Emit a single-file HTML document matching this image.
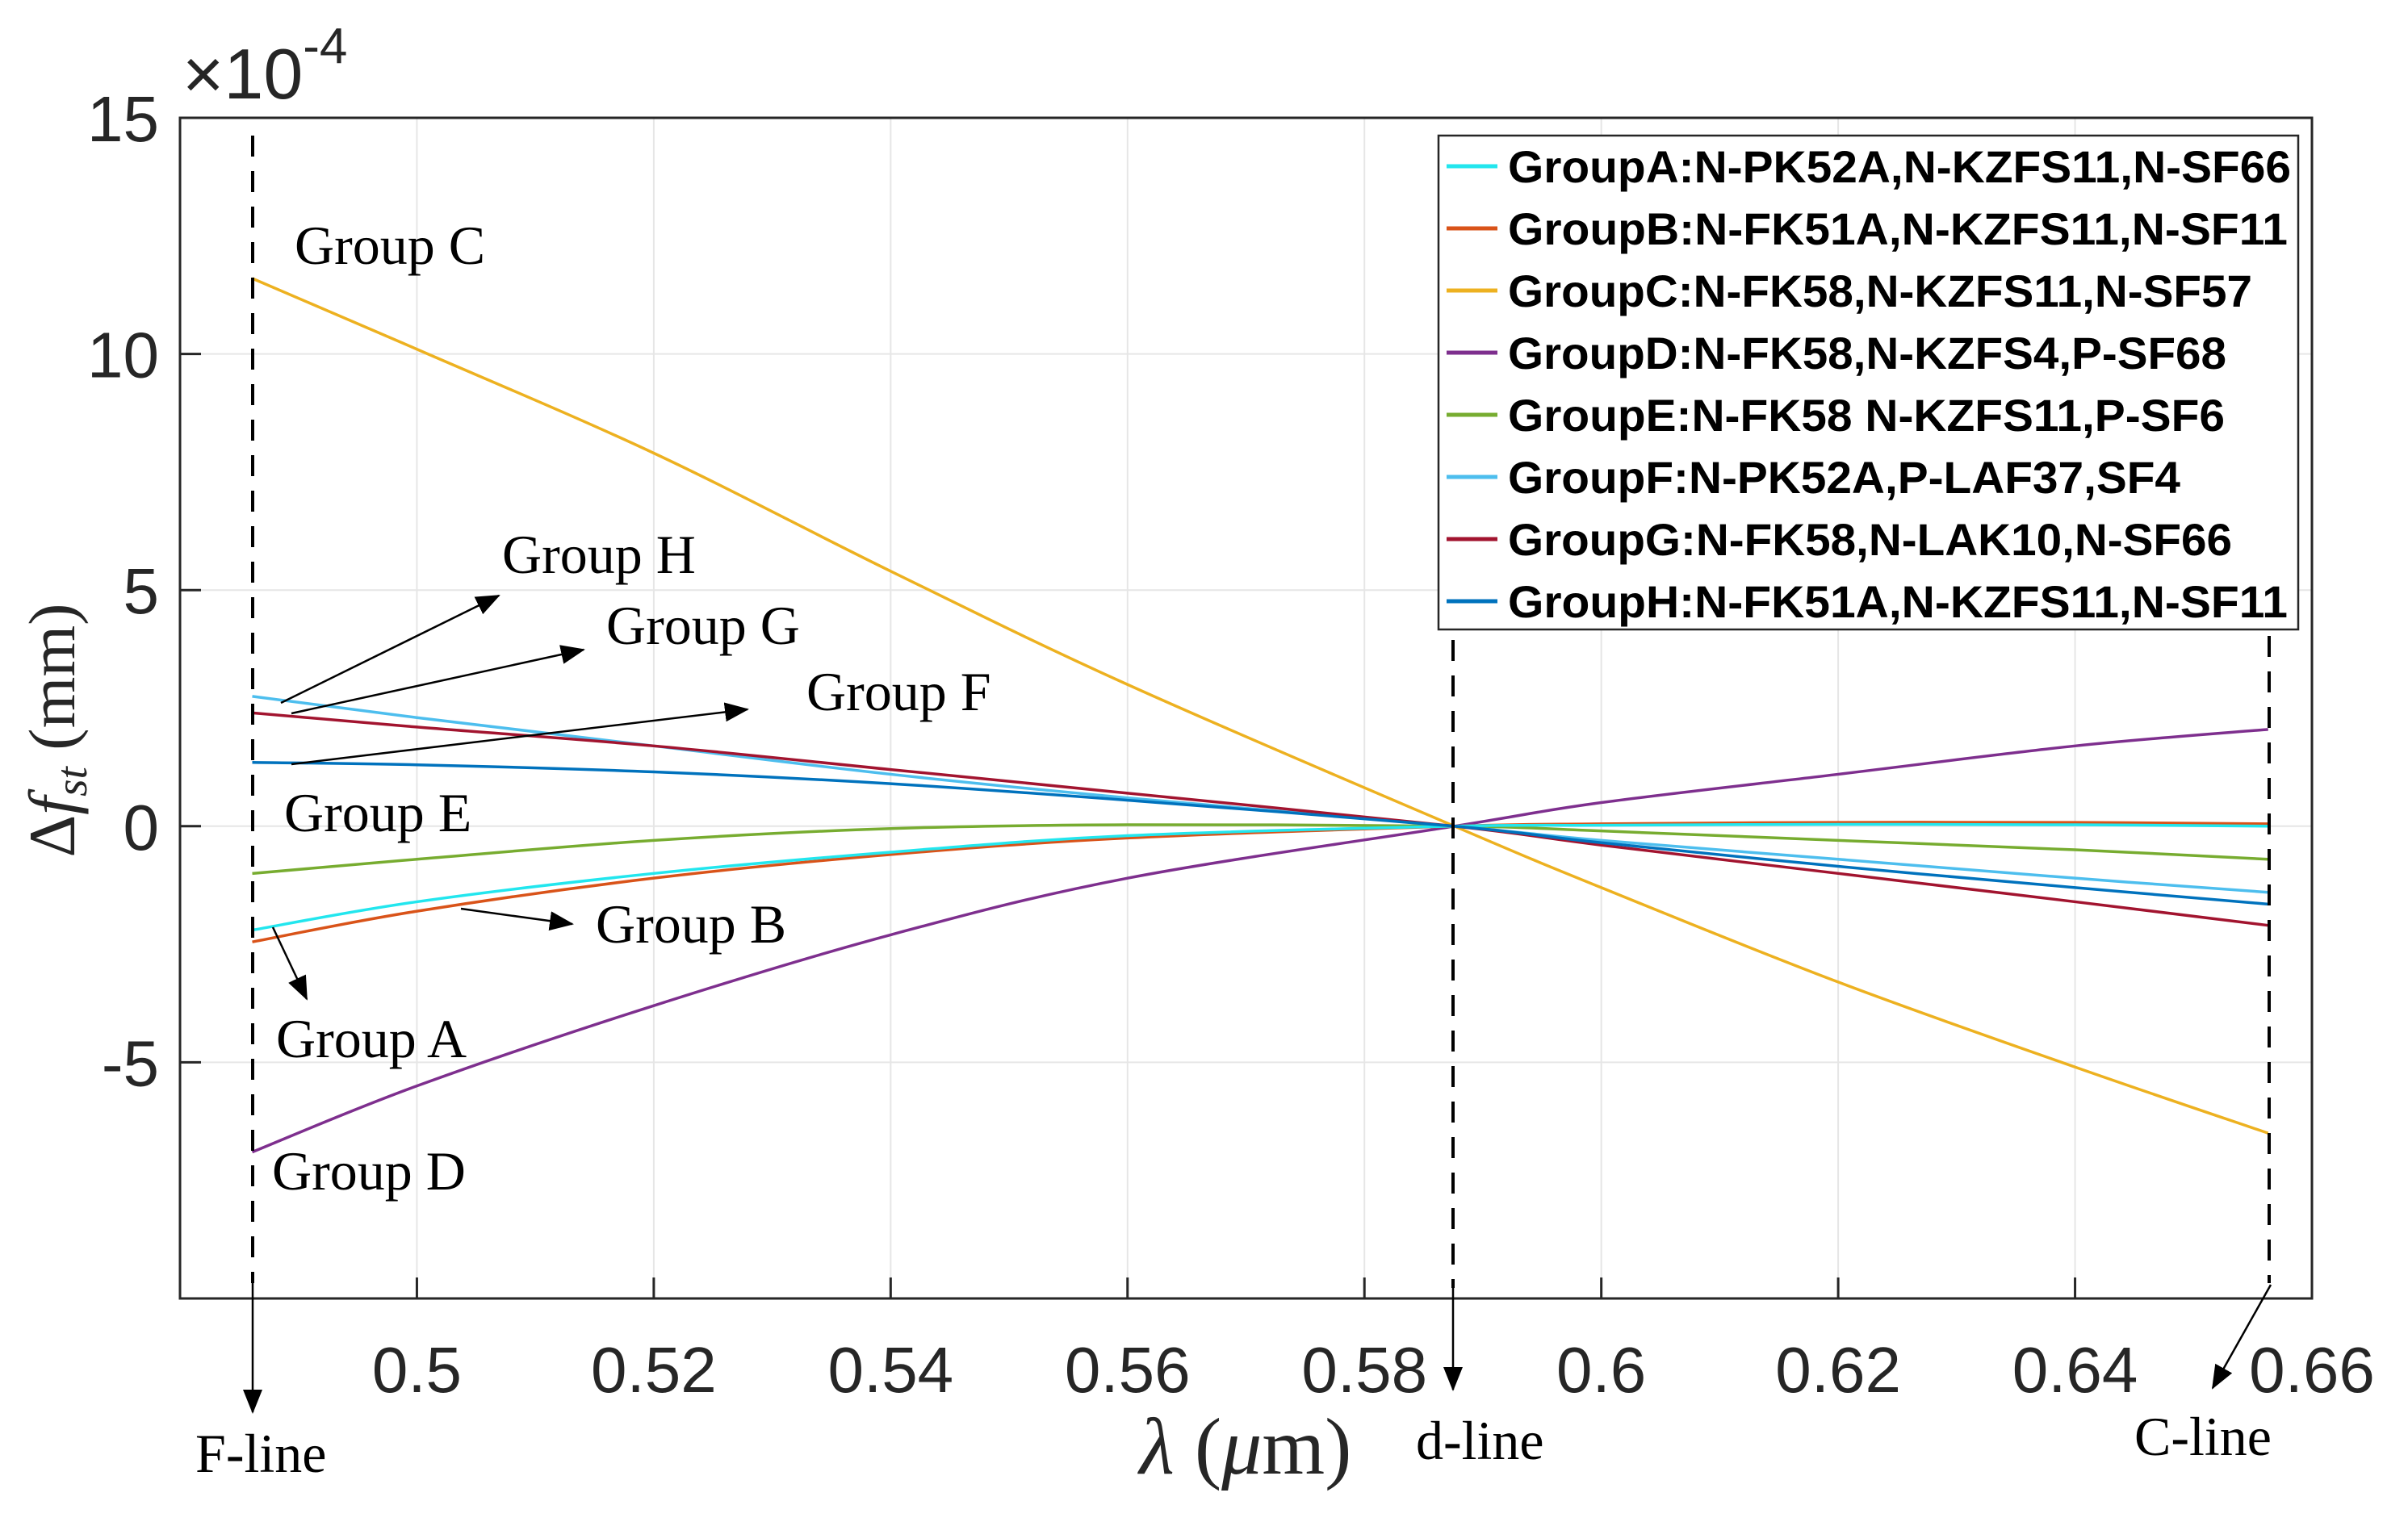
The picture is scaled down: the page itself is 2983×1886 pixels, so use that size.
<!DOCTYPE html>
<html><head><meta charset="utf-8"><style>
html,body{margin:0;padding:0;background:#fff;}
svg{display:block;}
</style></head><body>
<svg id="chart" width="2983" height="1886" xmlns="http://www.w3.org/2000/svg">
<rect x="0" y="0" width="2983" height="1886" fill="#fff"/>
<g id="grid"></g>
<g id="series"></g>
<rect x="223" y="146" width="2641" height="1463" fill="none" stroke="#262626" stroke-width="3"/>
<g id="ticks" font-family="Liberation Sans, sans-serif" font-size="80" fill="#262626"></g>
<text x="226" y="122" font-family="Liberation Sans, sans-serif" font-size="88" fill="#262626">×10<tspan font-size="62" dy="-44">-4</tspan></text>
<text transform="translate(92,905) rotate(-90)" text-anchor="middle" font-family="Liberation Serif, serif" font-size="82" fill="#262626">Δ<tspan font-style="italic">f</tspan><tspan font-style="italic" font-size="55" dy="15">st</tspan><tspan dy="-15"> (mm)</tspan></text>
<text x="1543" y="1826" text-anchor="middle" font-family="Liberation Serif, serif" font-size="100" fill="#262626"><tspan font-style="italic">λ</tspan> (<tspan font-style="italic">μ</tspan>m)</text>
<defs>
<marker id="ah2" markerWidth="30" markerHeight="24" refX="28" refY="12" orient="auto" markerUnits="userSpaceOnUse"><path d="M0,0 L30,12 L0,24 z" fill="#000"/></marker></defs>
<g id="annot" font-family="Liberation Serif, serif" font-size="68" fill="#000" stroke="none">
<line x1="313" y1="168" x2="313" y2="1590" stroke="#000" stroke-width="4" stroke-dasharray="26,18"/>
<line x1="313" y1="1590" x2="313" y2="1750" stroke="#000" stroke-width="2.5" marker-end="url(#ah2)"/>
<line x1="1800" y1="793" x2="1800" y2="1596" stroke="#000" stroke-width="4" stroke-dasharray="26,18"/>
<line x1="1800" y1="1596" x2="1800" y2="1722" stroke="#000" stroke-width="2.5" marker-end="url(#ah2)"/>
<line x1="2811" y1="788" x2="2811" y2="1590" stroke="#000" stroke-width="4" stroke-dasharray="26,18"/>
<line x1="2813" y1="1592" x2="2741" y2="1720" stroke="#000" stroke-width="2.5" marker-end="url(#ah2)"/>
<line x1="348" y1="871" x2="618" y2="738" stroke="#000" stroke-width="2.5" marker-end="url(#ah2)"/>
<line x1="361" y1="884" x2="723" y2="805" stroke="#000" stroke-width="2.5" marker-end="url(#ah2)"/>
<line x1="361" y1="947" x2="926" y2="879" stroke="#000" stroke-width="2.5" marker-end="url(#ah2)"/>
<line x1="571" y1="1126" x2="709" y2="1145" stroke="#000" stroke-width="2.5" marker-end="url(#ah2)"/>
<line x1="338" y1="1149" x2="380" y2="1238" stroke="#000" stroke-width="2.5" marker-end="url(#ah2)"/>
<text x="365" y="327">Group C</text>
<text x="622" y="710">Group H</text>
<text x="751" y="798">Group G</text>
<text x="999" y="880">Group F</text>
<text x="352" y="1030">Group E</text>
<text x="738" y="1168">Group B</text>
<text x="342" y="1310">Group A</text>
<text x="337" y="1474">Group D</text>
<text x="242" y="1824">F-line</text>
<text x="1754" y="1808">d-line</text>
<text x="2644" y="1803">C-line</text>
</g>
<g id="legend">
<rect x="1782" y="168" width="1065" height="612" fill="#fff" stroke="#262626" stroke-width="2.5"/>
</g>
</svg>
<script>
const xs = [0.4861, 0.50, 0.52, 0.54, 0.56, 0.5876, 0.60, 0.62, 0.64, 0.6563];
const seriesNames = ['GroupA:N-PK52A,N-KZFS11,N-SF66','GroupB:N-FK51A,N-KZFS11,N-SF11','GroupC:N-FK58,N-KZFS11,N-SF57','GroupD:N-FK58,N-KZFS4,P-SF68','GroupE:N-FK58 N-KZFS11,P-SF6','GroupF:N-PK52A,P-LAF37,SF4','GroupG:N-FK58,N-LAK10,N-SF66','GroupH:N-FK51A,N-KZFS11,N-SF11'];
const groupA = [-2.2, -1.6, -1.0, -0.55, -0.2, 0, 0.02, 0.04, 0.03, 0.0];
const groupB = [-2.45, -1.8, -1.1, -0.6, -0.25, 0, 0.05, 0.08, 0.08, 0.05];
const groupC = [11.6, 10.1, 7.9, 5.4, 3.0, 0, -1.3, -3.3, -5.1, -6.5];
const groupD = [-6.9, -5.5, -3.8, -2.3, -1.1, 0, 0.5, 1.1, 1.7, 2.05];
const groupE = [-1.0, -0.7, -0.3, -0.05, 0.03, 0, -0.1, -0.3, -0.5, -0.7];
const groupF = [2.75, 2.3, 1.7, 1.1, 0.6, 0, -0.3, -0.7, -1.1, -1.4];
const groupG = [2.4, 2.1, 1.7, 1.2, 0.7, 0, -0.4, -1.0, -1.6, -2.1];
const groupH = [1.35, 1.3, 1.15, 0.9, 0.55, 0, -0.35, -0.85, -1.3, -1.65];
const xTicks = [0.5, 0.52, 0.54, 0.56, 0.58, 0.6, 0.62, 0.64, 0.66];
const xTickLabels = ['0.5','0.52','0.54','0.56','0.58','0.6','0.62','0.64','0.66'];
const yTicks = [15, 10, 5, 0, -5];
const yTickLabels = ['15','10','5','0','-5'];

const NS='http://www.w3.org/2000/svg';
const L=223,R=2864,T=146,B=1609;
function sx(v){return L+(v-0.48)/(0.66-0.48)*(R-L);}
function sy(v){return B-(v-(-10))/(15-(-10))*(B-T);}
function mk(tag,attrs,parent){const e=document.createElementNS(NS,tag);for(const k in attrs)e.setAttribute(k,attrs[k]);parent.appendChild(e);return e;}
const grid=document.getElementById('grid'),ticks=document.getElementById('ticks'),ser=document.getElementById('series'),leg=document.getElementById('legend');
xTicks.forEach((v,i)=>{
  const g=mk('line',{x1:sx(v),x2:sx(v),y1:T,y2:B,stroke:'#e6e6e6','stroke-width':2},grid);
  
  
  const t=mk('line',{x1:sx(v),x2:sx(v),y1:B,y2:B-26,stroke:'#262626','stroke-width':3},ticks);
  
  
  const tx=mk('text',{x:sx(v),y:1725,'text-anchor':'middle'},ticks);
  tx.textContent=xTickLabels[i];
  
  
});
yTicks.forEach((v,i)=>{
  const g=mk('line',{x1:L,x2:R,y1:sy(v),y2:sy(v),stroke:'#e6e6e6','stroke-width':2},grid);
  
  
  const t=mk('line',{x1:L,x2:L+26,y1:sy(v),y2:sy(v),stroke:'#262626','stroke-width':3},ticks);
  
  
  const tx=mk('text',{x:197,y:sy(v)+29,'text-anchor':'end'},ticks);
  tx.textContent=yTickLabels[i];
  
  
});
const data=[groupA,groupB,groupC,groupD,groupE,groupF,groupG,groupH];
const colors=['#22e6ee','#D95319','#EDB120','#7E2F8E','#77AC30','#4DBEEE','#A2142F','#0072BD'];
const keys=['a','b','c','d','e','f','g','h'];
const lens=[970,966,922,890,888,833,897,966];
function pathFor(vals){
  const p=xs.map((x,i)=>[sx(x),sy(vals[i])]);
  let d='M'+p[0][0]+','+p[0][1];
  for(let i=0;i<p.length-1;i++){
    const p0=p[Math.max(0,i-1)],p1=p[i],p2=p[i+1],p3=p[Math.min(p.length-1,i+2)];
    const c1=[p1[0]+(p2[0]-p0[0])/6,p1[1]+(p2[1]-p0[1])/6];
    const c2=[p2[0]-(p3[0]-p1[0])/6,p2[1]-(p3[1]-p1[1])/6];
    d+=' C'+c1[0]+','+c1[1]+' '+c2[0]+','+c2[1]+' '+p2[0]+','+p2[1];
  }
  return d;
}
const order=[2,3,4,1,0,5,6,7];
order.forEach(i=>{
  const pth=mk('path',{d:pathFor(data[i]),fill:'none',stroke:colors[i],'stroke-width':3.5},ser);
  
  
});
data.forEach((v,i)=>{
  const y=206+77*i;
  const ln=mk('line',{x1:1792,x2:1855,y1:y,y2:y,stroke:colors[i],'stroke-width':5},leg);
  
  
  const tx=mk('text',{x:1868,y:y+20,'font-family':'Liberation Sans, sans-serif','font-weight':'bold','font-size':56,fill:'#000',textLength:lens[i],lengthAdjust:'spacingAndGlyphs'},leg);
  tx.textContent=seriesNames[i];
  
  
});
</script>
</body></html>
